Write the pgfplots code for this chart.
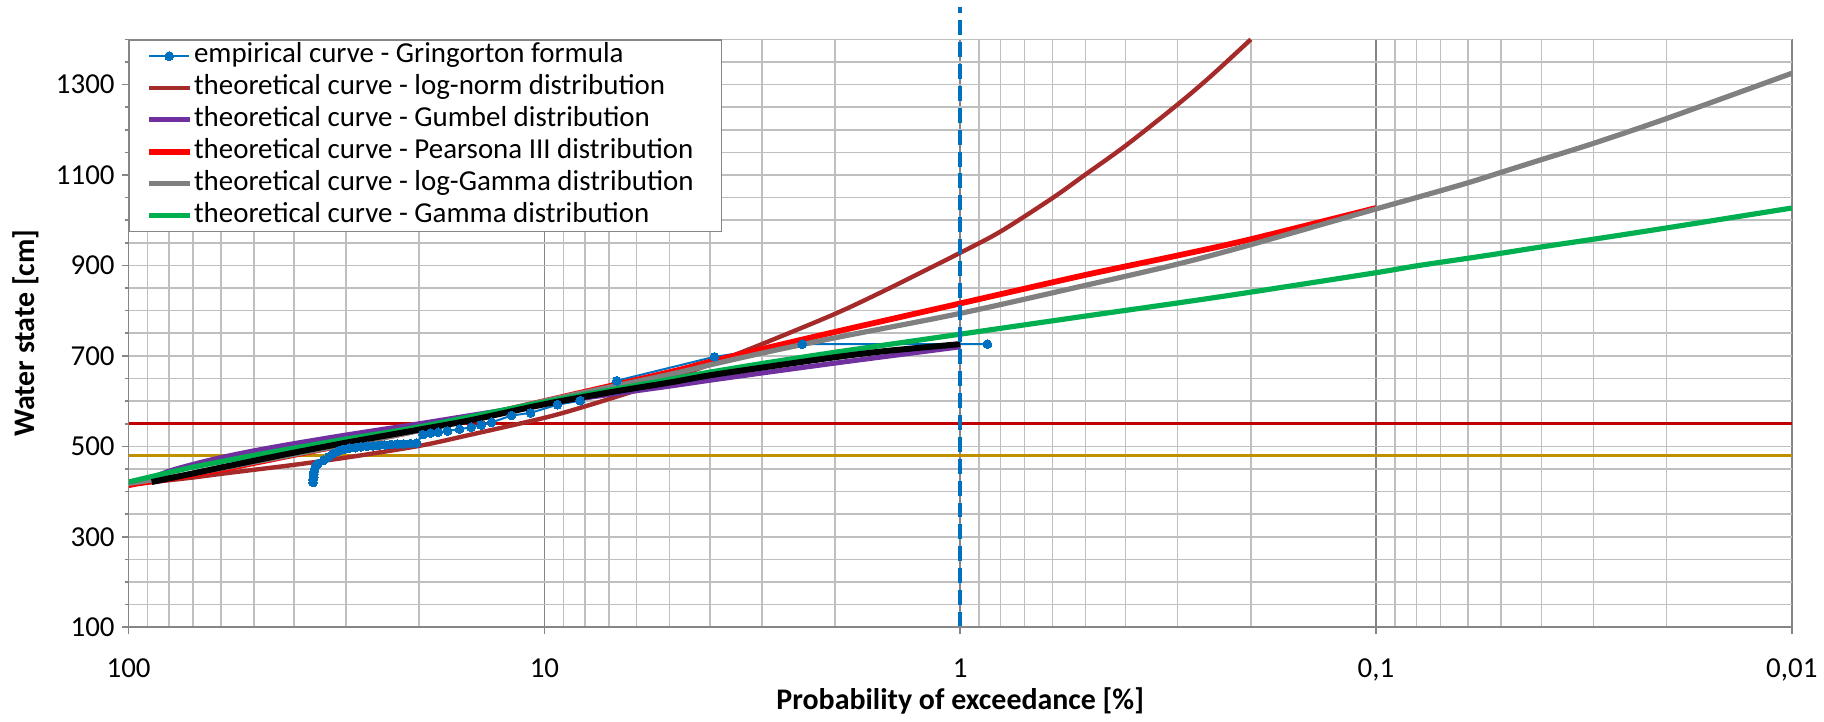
\documentclass[border=0pt]{standalone}
\usepackage{fontspec}
\setmainfont{Carlito}
\usepackage{pgfplots}
\pgfplotsset{compat=1.18}
\usepackage{pgfplotstable}
\usetikzlibrary{calc}

\definecolor{cBlue}{HTML}{0070C0}
\definecolor{cBrown}{HTML}{A52A2A}
\definecolor{cPurple}{HTML}{7030A0}
\definecolor{cRed}{HTML}{FF0000}
\definecolor{cGray}{HTML}{808080}
\definecolor{cGreen}{HTML}{00B050}
\definecolor{cDarkRed}{HTML}{C00000}
\definecolor{cGold}{HTML}{BF9000}
\definecolor{gridLight}{HTML}{BFBFBF}
\definecolor{gridDark}{HTML}{868686}

\pgfplotstableread{
p v
36.0 420
36.0 426
35.9 432
35.9 438
35.8 444
35.7 450
35.5 456
35.0 462
34.0 469
33.0 477
32.2 484
31.3 489
30.5 493
29.5 496
28.5 497
27.6 499
26.7 500
25.8 501
25.0 502
24.2 503
23.4 504
22.6 505
21.8 505
21.0 506
20.3 507
19.6 526
18.8 529
18.0 531
17.1 534
16.0 538
15.0 542
14.2 547
13.4 553
12.0 568
10.8 574
9.3 592
8.2 601
6.7 645
3.9 698
2.4 726
0.86 726
}\empirical

\pgfplotstableread{
p v
100 415
90 420
80 425
70 431
60 439
50 448
40 459
30 475
20 501
15 526
10 563
8 588
6 624
5 649
4 681
3 726
2 793
1.5 847
1 928
0.8 975
0.6 1049
0.5 1101
0.4 1165
0.3 1256
0.25 1318
0.2 1400
}\lognorm

\pgfplotstableread{
p v
93 418
90 426
80 445
70 460
60 475
50 490
40 506
30 525
20 550
10 594
5 633
4 646
3 662
2 684
1.5 699
1 720
}\gumbel

\pgfplotstableread{
p v
100 414
95 418
90 421
80 428
70 437
60 448
50 463
40 481
30 504
20 536
10 600
5 664
4 687
3 715
2 753
1 816
0.5 879
0.3 922
0.2 958
0.1 1027
}\pearson

\pgfplotstableread{
p v
100 418
90 424
80 431
70 440
60 451
50 465
40 482
30 504
20 535
10 600
5 659
4 680
3 706
2 740
1 794
0.5 856
0.3 903
0.2 946
0.1 1025
0.08 1050
0.06 1083
0.05 1106
0.04 1134
0.03 1170
0.02 1225
0.01 1325
}\loggamma

\pgfplotstableread{
p v
100 421
90 431
80 442
70 454
60 466
50 480
40 496
30 516
20 543
10 598
5 648
4 664
3 683
2 708
1 748
0.5 788
0.3 817
0.2 841
0.1 884
0.08 899
0.06 916
0.05 927
0.04 941
0.03 958
0.02 983
0.01 1027
}\gammad

\pgfplotstableread{
p v
88 421
80 429
70 440
60 453
50 468
40 486
30 508
20 537
15 558
10 593
7 619
5 641
4 657
3 674
2 697
1.5 711
1 726
}\blackc

\begin{document}
\begin{tikzpicture}
\begin{axis}[
  name=ax,
  scale only axis, width=834bp, height=294.75bp,
  xmode=log, x dir=reverse,
  xmin=0.01, xmax=100, ymin=100, ymax=1400,
  clip=false,
  xtick={100,10,1,0.1,0.01},
  xticklabels={100,10,1,{0,1},{0,01}},
  minor xtick={0.02,0.03,0.04,0.05,0.06,0.07,0.08,0.09,0.2,0.3,0.4,0.5,0.6,0.7,0.8,0.9,2,3,4,5,6,7,8,9,20,30,40,50,60,70,80,90},
  ytick={100,300,...,1300},
  minor ytick={150,200,...,1400},
  xmajorgrids, xminorgrids, ymajorgrids, yminorgrids,
  major x grid style={draw=gridDark, line width=0.8bp},
  minor x grid style={draw=gridLight, line width=0.8bp},
  major y grid style={draw=gridLight, line width=0.8bp},
  minor y grid style={draw=gridLight, line width=0.8bp},
  axis line style={draw=none},
  tick align=outside, tick pos=left,
  major tick length=3.5bp, minor tick length=2bp,
  tick style={draw=gridDark, line width=0.8bp},
  minor x tick style={draw=none},
  /pgf/number format/assume math mode=true,
  /pgf/number format/1000 sep={},
  ticklabel style={font=\fontsize{14.5bp}{16bp}\selectfont, text=black},
  xticklabel style={yshift=-9bp},
  xlabel={Probability of exceedance [\%]},
  ylabel={Water state [cm]},
  label style={font=\bfseries\fontsize{15bp}{18bp}\selectfont},
  xlabel style={at={(axis description cs:0.5,-0.1262)}, anchor=center},
  ylabel style={at={(axis description cs:-0.062,0.5)}, anchor=center},
  legend style={at={(axis description cs:0,1)}, anchor=north west,
    draw=gridDark, line width=0.8bp, fill=white,
    font=\fontsize{14.5bp}{16bp}\selectfont,
    inner xsep=8.5bp, inner ysep=0bp, row sep=0bp,
    nodes={inner xsep=1bp, inner ysep=1.25bp, text height=10bp, text depth=3.5bp}},
  legend cell align=left,
  legend image code/.code={\draw[mark repeat=2, mark phase=2, #1] plot coordinates {(0bp,0bp) (10bp,0bp) (20bp,0bp)};},
]
\addplot[cGold, line width=1.3bp, forget plot] coordinates {(100,480) (0.01,480)};
\addplot[cDarkRed, line width=1.6bp, forget plot] coordinates {(100,550) (0.01,550)};

\addplot[cBlue, line width=1bp, mark=*, mark size=2.2bp, mark options={fill=cBlue, draw=cBlue, line width=0pt}] table {\empirical};
\addlegendentry{empirical curve - Gringorton formula}
\addplot[cBrown, line width=2.2bp, smooth] table {\lognorm};
\addlegendentry{theoretical curve - log-norm distribution}
\addplot[cPurple, line width=2.5bp, smooth] table {\gumbel};
\addlegendentry{theoretical curve - Gumbel distribution}
\addplot[cRed, line width=2.9bp, smooth] table {\pearson};
\addlegendentry{theoretical curve - Pearsona III distribution}
\addplot[cGray, line width=2.6bp, smooth] table {\loggamma};
\addlegendentry{theoretical curve - log-Gamma distribution\hspace*{4.5bp}}
\addplot[cGreen, line width=2.6bp, smooth] table {\gammad};
\addlegendentry{theoretical curve - Gamma distribution}
\addplot[black, line width=3bp, smooth, forget plot] table {\blackc};

\addplot[cBlue, line width=2bp, dash pattern=on 7.5bp off 3.5bp, forget plot] coordinates {(1,100) (1,1472)};

\draw[gridDark, line width=0.8bp] (axis description cs:0,1) -- (axis description cs:0,0) -- (axis description cs:1,0);
\end{axis}
\path ($(ax.south west)+(-64.5bp,-46bp)$) rectangle ($(ax.north east)+(13.5bp,19.75bp)$);
\end{tikzpicture}
\end{document}
